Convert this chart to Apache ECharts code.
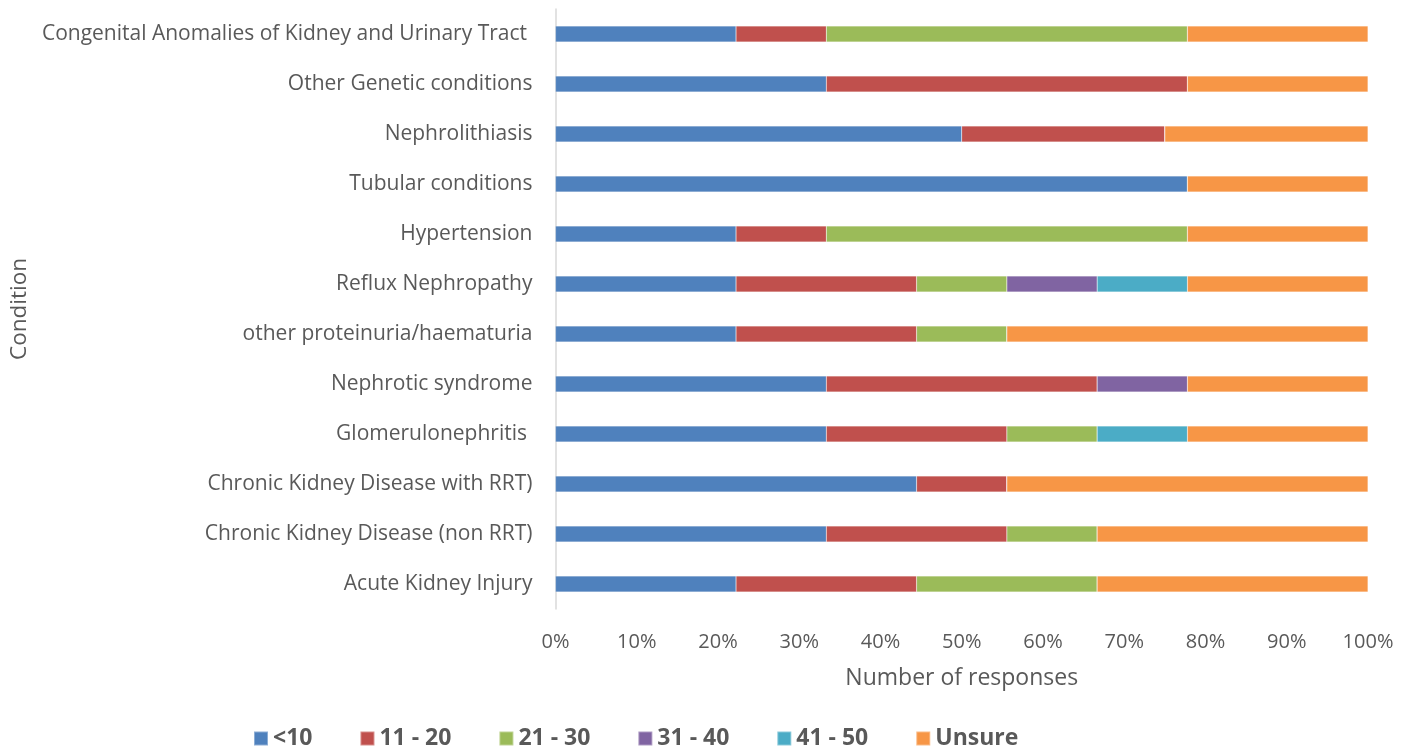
<!DOCTYPE html>
<html>
<head>
<meta charset="utf-8">
<script src="https://cdn.jsdelivr.net/npm/echarts@6/dist/echarts.min.js"></script>
<style>
  html, body { margin: 0; padding: 0; background: #fff; }
  #chart { width: 1414px; height: 749px; }
</style>
</head>
<body>
<div id="chart"></div>
<script>
// Conditions, listed top to bottom
const categories = [
  'Congenital Anomalies of Kidney and Urinary Tract ',
  'Other Genetic conditions',
  'Nephrolithiasis',
  'Tubular conditions',
  'Hypertension',
  'Reflux Nephropathy',
  'other proteinuria/haematuria',
  'Nephrotic syndrome',
  'Glomerulonephritis ',
  'Chronic Kidney Disease with RRT)',
  'Chronic Kidney Disease (non RRT)',
  'Acute Kidney Injury'
];

// Number of responses in each band, per condition
const under10   = [2, 3, 2, 7, 2, 2, 2, 3, 3, 4, 3, 2];
const r11to20   = [1, 4, 1, 0, 1, 2, 2, 3, 2, 1, 2, 2];
const r21to30   = [4, 0, 0, 0, 4, 1, 1, 0, 1, 0, 1, 2];
const r31to40   = [0, 0, 0, 0, 0, 1, 0, 1, 0, 0, 0, 0];
const r41to50   = [0, 0, 0, 0, 0, 1, 0, 0, 1, 0, 0, 0];
const unsure    = [2, 2, 1, 2, 2, 2, 4, 2, 2, 4, 3, 3];

const seriesNames = ['<10', '11 - 20', '21 - 30', '31 - 40', '41 - 50', 'Unsure'];
const seriesCounts = [under10, r11to20, r21to30, r31to40, r41to50, unsure];
const colors = ['#4f81bd', '#c0504d', '#9bbb59', '#8064a2', '#4bacc6', '#f79646'];
const xTicks = ['0%', '10%', '20%', '30%', '40%', '50%', '60%', '70%', '80%', '90%', '100%'];

// Row totals for the 100% stacking
const totals = categories.map((_, i) => seriesCounts.reduce((s, arr) => s + arr[i], 0));

const FONT = 'Open Sans';
const TEXT = '#595959';

const chart = echarts.init(document.getElementById('chart'));
chart.setOption({
  animation: false,
  color: colors,
  textStyle: { fontFamily: FONT, color: TEXT },
  grid: { left: 554, right: 46, top: 9, bottom: 140, containLabel: false },
  legend: {
    top: 722,
    left: 248,
    itemWidth: 14,
    itemHeight: 14,
    itemGap: 47,
    icon: 'rect',
    textStyle: { fontFamily: FONT, fontSize: 23, fontWeight: 'bold', color: TEXT },
    data: seriesNames
  },
  xAxis: {
    type: 'value',
    min: 0,
    max: 100,
    interval: 10,
    name: 'Number of responses',
    nameLocation: 'middle',
    nameGap: 58,
    nameTextStyle: { fontFamily: FONT, fontSize: 23, color: TEXT },
    axisLine: { show: false },
    axisTick: { show: false },
    splitLine: { show: false },
    axisLabel: {
      fontFamily: FONT, fontSize: 20, color: TEXT, margin: 23,
      formatter: (v) => xTicks[Math.round(v / 10)]
    }
  },
  yAxis: {
    type: 'category',
    inverse: true,
    data: categories,
    name: 'Condition',
    nameLocation: 'middle',
    nameRotate: 90,
    nameGap: 524,
    nameTextStyle: { fontFamily: FONT, fontSize: 22.5, color: TEXT },
    axisLine: { show: true, lineStyle: { color: '#d9d9d9', width: 1.5 } },
    axisTick: { show: false },
    axisLabel: { fontFamily: FONT, fontSize: 21, color: TEXT, margin: 23 }
  },
  series: seriesNames.map((name, k) => ({
    name,
    type: 'bar',
    stack: 'all',
    barWidth: 16,
    itemStyle: { color: colors[k], borderColor: 'rgba(255,255,255,0.35)', borderWidth: 0.5 },
    data: seriesCounts[k].map((c, i) => c / totals[i] * 100)
  }))
});
</script>
</body>
</html>
